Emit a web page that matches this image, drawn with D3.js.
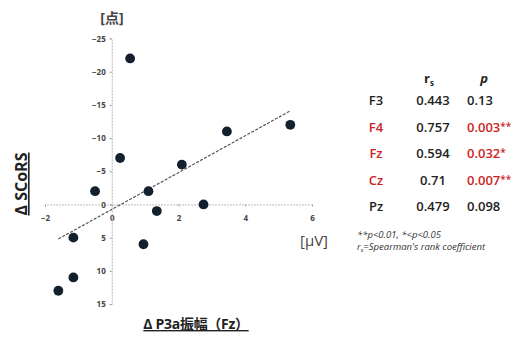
<!DOCTYPE html>
<html lang="ja">
<head>
<meta charset="utf-8">
<title>P3a vs SCoRS</title>
<script src="https://d3js.org/d3.v7.js"></script>
<style>
  body { margin: 0; background: #fff; }
  text { font-family: "Open Sans", "Noto Sans CJK JP", sans-serif; }
</style>
</head>
<body>
<script>

// width and height
var w = 521;
var h = 337;

// scatter data: change in P3a amplitude (uV) vs change in SCoRS (points)
var p3aChange = [0.55, 0.25, 2.1, 3.45, 5.35, -0.5, 1.1, 2.75, 1.35, -1.15, 0.95, -1.15, -1.6];
var scorsChange = [-22, -7, -6, -11, -12, -2, -2, 0, 1, 5, 6, 11, 13];

// fitted line endpoints
var trendX = [-1.6, 5.35];
var trendY = [5.2, -14.1];

// axis ticks
var xTicks = [-2, 0, 2, 4, 6];
var yTicks = [-25, -20, -15, -10, -5, 0, 5, 10, 15];

// correlation table
var electrodes = ["F3", "F4", "Fz", "Cz", "Pz"];
var rsValues = ["0.443", "0.757", "0.594", "0.71", "0.479"];
var pValues = ["0.13", "0.003", "0.032", "0.007", "0.098"];
var pStars = ["", "**", "*", "**", ""];
var significant = [false, true, true, true, false];

var svg = d3.select("body")
  .append("svg")
  .attr("width", w)
  .attr("height", h);

// scales (y is reversed: negative change at the top)
var xScale = d3.scaleLinear()
  .domain([-2, 6])
  .range([45, 312]);

var yScale = d3.scaleLinear()
  .domain([-25, 15])
  .range([38.5, 304]);

// axes drawn through the origin
var xAxis = d3.axisBottom(xScale)
  .tickValues(xTicks)
  .tickSize(2)
  .tickPadding(9);

var yAxis = d3.axisLeft(yScale)
  .tickValues(yTicks)
  .tickSize(2)
  .tickPadding(4);

var gx = svg.append("g")
  .attr("transform", "translate(0," + yScale(0) + ")")
  .call(xAxis);

var gy = svg.append("g")
  .attr("transform", "translate(" + xScale(0) + ",0)")
  .call(yAxis);

[gx, gy].forEach(function(g) {
  g.select(".domain")
    .attr("stroke", "#bbb")
    .attr("stroke-dasharray", "2,1");
  g.selectAll(".tick line").attr("stroke", "#999");
  g.selectAll(".tick text")
    .attr("fill", "#444")
    .style("font-size", "8px")
    .style("font-weight", "bold");
});

// trend line
svg.append("line")
  .attr("x1", xScale(trendX[0]))
  .attr("y1", yScale(trendY[0]))
  .attr("x2", xScale(trendX[1]))
  .attr("y2", yScale(trendY[1]))
  .attr("stroke", "#555")
  .attr("stroke-width", 1.2)
  .attr("stroke-dasharray", "3,1.5");

// points
svg.selectAll("circle")
  .data(p3aChange)
  .enter()
  .append("circle")
  .attr("cx", d => xScale(d))
  .attr("cy", (d, i) => yScale(scorsChange[i]))
  .attr("r", 4.9)
  .attr("fill", "#15202f");

// axis titles and units
svg.append("text")
  .attr("x", 112)
  .attr("y", 23)
  .attr("text-anchor", "middle")
  .attr("fill", "#444")
  .style("font-size", "14px")
  .style("font-weight", "bold")
  .text("[点]");

svg.append("text")
  .attr("x", 314)
  .attr("y", 246)
  .attr("text-anchor", "middle")
  .attr("fill", "#444")
  .style("font-size", "15px")
  .text("[μV]");

svg.append("text")
  .attr("transform", "translate(27,184) rotate(-90)")
  .attr("text-anchor", "middle")
  .attr("fill", "#222")
  .attr("text-decoration", "underline")
  .style("font-size", "16px")
  .style("font-weight", "bold")
  .text("Δ SCoRS");

svg.append("text")
  .attr("x", 196)
  .attr("y", 329)
  .attr("text-anchor", "middle")
  .attr("fill", "#222")
  .attr("text-decoration", "underline")
  .style("font-size", "14px")
  .style("font-weight", "bold")
  .style("letter-spacing", "-0.3px")
  .text("Δ P3a振幅（Fz）");

// correlation table
var red = "#cc1f1f";
var rowY = d3.scalePoint()
  .domain(electrodes)
  .range([105, 211]);

var hdr = svg.append("g").style("font-size", "13px").style("font-weight", "bold").attr("fill", "#222");
hdr.append("text").attr("x", 429).attr("y", 83).attr("text-anchor", "middle").text("r")
  .append("tspan").attr("dy", 3).style("font-size", "8px").text("s");
hdr.append("text").attr("x", 484).attr("y", 83).attr("text-anchor", "middle")
  .style("font-style", "italic").text("p");

var rows = svg.selectAll("g.row")
  .data(electrodes)
  .enter()
  .append("g")
  .attr("class", "row")
  .attr("transform", d => "translate(0," + rowY(d) + ")")
  .style("font-size", "13px")
  .style("font-weight", "600");

rows.append("text")
  .attr("x", 376)
  .attr("text-anchor", "middle")
  .attr("fill", (d, i) => significant[i] ? red : "#222")
  .text(d => d);

rows.append("text")
  .attr("x", 433)
  .attr("text-anchor", "middle")
  .attr("fill", "#222")
  .text((d, i) => rsValues[i]);

var pText = rows.append("text")
  .attr("x", 467)
  .attr("text-anchor", "start")
  .attr("fill", (d, i) => significant[i] ? red : "#222")
  .text((d, i) => pValues[i]);
pText.append("tspan")
  .attr("dy", -2)
  .style("font-size", "10px")
  .text((d, i) => pStars[i]);

// footnote
var note = svg.append("g")
  .style("font-size", "9.5px")
  .style("font-style", "italic")
  .attr("fill", "#333");
note.append("text").attr("x", 357).attr("y", 238).text("**p<0.01, *<p<0.05");
var n2 = note.append("text").attr("x", 357).attr("y", 250).text("r");
n2.append("tspan").attr("dy", 2).style("font-size", "6px").text("s");
n2.append("tspan").attr("dy", -2).text("=Spearman's rank coefficient");

    </script>
  </body>
</html>
